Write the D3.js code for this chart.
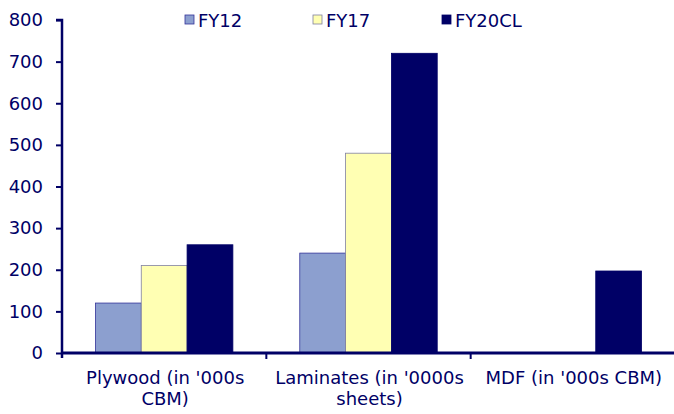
<!DOCTYPE html>
<html>
<head>
<meta charset="utf-8">
<script src="https://cdn.jsdelivr.net/npm/d3@7"></script>
<style>
  html, body { margin: 0; padding: 0; background: #fff; }
  svg text { font-family: "DejaVu Sans", Verdana, sans-serif; fill: #000066; }
</style>
</head>
<body>
<svg id="chart" width="674" height="414"></svg>
<script>
// Capacity by product line
const categories = [["Plywood (in '000s", "CBM)"], ["Laminates (in '0000s", "sheets)"], ["MDF (in '000s CBM)"]];
const seriesNames = ["FY12", "FY17", "FY20CL"];
const fy12 = [120, 240, 0];
const fy17 = [210, 480, 0];
const fy20cl = [260, 720, 197];
const yTicks = [0, 100, 200, 300, 400, 500, 600, 700, 800];

const seriesValues = [fy12, fy17, fy20cl];
const fills = ["#8C9FCF", "#FFFFB3", "#000066"];
const strokes = ["#333399", "#8080A0", "#000066"];
const navy = "#000066";
const fontSize = "18px";

const svg = d3.select("#chart");
const margin = { left: 62, right: 0, top: 20, bottom: 61 };
const W = 674, H = 414;

const x0 = d3.scaleBand()
  .domain(d3.range(categories.length))
  .range([margin.left, W + 1])
  .paddingInner(0).paddingOuter(0);

const x1 = d3.scaleBand()
  .domain(d3.range(seriesNames.length))
  .range([0, x0.bandwidth()])
  .paddingOuter(0.73).paddingInner(0);

const y = d3.scaleLinear().domain([0, 800]).range([H - margin.bottom, margin.top]);

// Bars
const groups = svg.append("g").selectAll("g")
  .data(categories.map((c, i) => i))
  .join("g")
  .attr("transform", i => `translate(${x0(i)},0)`);

groups.selectAll("rect")
  .data(i => seriesValues.map((vals, s) => ({ s, v: vals[i] })).filter(d => d.v > 0))
  .join("rect")
  .attr("x", d => x1(d.s))
  .attr("width", x1.bandwidth())
  .attr("y", d => y(d.v))
  .attr("height", d => y(0) - y(d.v))
  .attr("fill", d => fills[d.s])
  .attr("stroke", d => strokes[d.s])
  .attr("stroke-width", 0.8);

// Y axis
const yAxis = svg.append("g")
  .attr("transform", `translate(${margin.left},0)`)
  .call(d3.axisLeft(y).tickValues(yTicks).tickSize(6).tickPadding(13));
yAxis.select(".domain").attr("stroke", navy).attr("stroke-width", 2.5)
  .attr("d", `M-6,${y(800)}H0V${y(0) + 5}`);
yAxis.selectAll(".tick line").attr("stroke", navy).attr("stroke-width", 2);
yAxis.selectAll(".tick text").style("font-size", fontSize).attr("fill", navy)
  .attr("font-family", "DejaVu Sans, Verdana, sans-serif");

// X axis with category boundary ticks
const xAxisG = svg.append("g").attr("transform", `translate(0,${y(0)})`);
xAxisG.append("line")
  .attr("x1", margin.left).attr("x2", W)
  .attr("stroke", navy).attr("stroke-width", 3);
const bounds = d3.range(categories.length).map(i => x0(i)).slice(1);
xAxisG.selectAll("line.tk").data(bounds).join("line")
  .attr("class", "tk")
  .attr("x1", d => d).attr("x2", d => d)
  .attr("y1", 0).attr("y2", 6)
  .attr("stroke", navy).attr("stroke-width", 2);

// Category labels
const labels = svg.append("g").selectAll("text")
  .data(categories.map((c, i) => ({ c, i })))
  .join("text")
  .attr("y", 384)
  .attr("text-anchor", "middle")
  .style("font-size", fontSize);
labels.selectAll("tspan")
  .data(d => d.c.map(line => ({ line, x: x0(d.i) + x0.bandwidth() / 2 + 1 })))
  .join("tspan")
  .attr("x", d => d.x)
  .attr("dy", (d, k) => k === 0 ? 0 : 21)
  .text(d => d.line);

// Legend
const legendX = [185, 313, 442];
const legend = svg.append("g").selectAll("g")
  .data(seriesNames.map((n, i) => ({ n, i })))
  .join("g")
  .attr("transform", d => `translate(${legendX[d.i]},15)`);
legend.append("rect")
  .attr("width", 9).attr("height", 9)
  .attr("fill", d => fills[d.i])
  .attr("stroke", d => strokes[d.i])
  .attr("stroke-width", 0.8);
legend.append("text")
  .attr("x", 13).attr("y", 12)
  .style("font-size", fontSize)
  .text(d => d.n);
</script>
</body>
</html>
